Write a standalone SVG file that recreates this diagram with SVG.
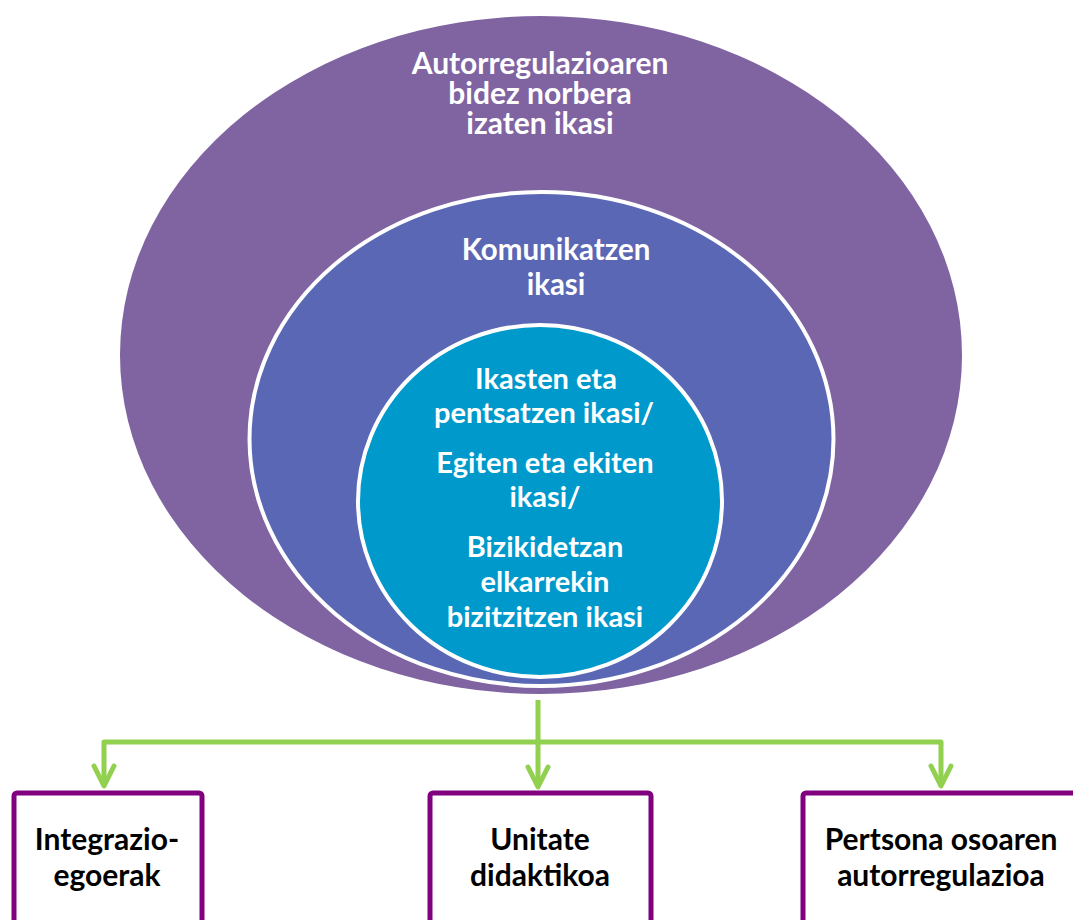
<svg xmlns="http://www.w3.org/2000/svg" width="1073" height="920" viewBox="0 0 1073 920">
<style>
.w{font-family:Lato,"Liberation Sans",sans-serif;font-weight:700;fill:#ffffff;text-anchor:middle}
.k{font-family:Lato,"Liberation Sans",sans-serif;font-weight:700;fill:#000000;text-anchor:middle;font-size:30px}
.box{fill:#ffffff;stroke:#800080;stroke-width:5}
.con{fill:none;stroke:#92D050;stroke-width:5;stroke-linejoin:round}
.head{fill:none;stroke:#92D050;stroke-width:5;stroke-linejoin:round;stroke-linecap:round}
</style>
<rect width="1073" height="920" fill="#ffffff"/>
<g id="outer">
<ellipse cx="541" cy="355" rx="421" ry="339" fill="#8064A2"/>
<text class="w" font-size="30"><tspan x="540" y="74">Autorregulazioaren</tspan><tspan x="540" y="104">bidez norbera</tspan><tspan x="540" y="134">izaten ikasi</tspan></text>
</g>
<g id="middle">
<ellipse cx="541.5" cy="439" rx="292" ry="247" fill="#5A67B4" stroke="#ffffff" stroke-width="4"/>
<text class="w" font-size="29.5"><tspan x="556" y="260">Komunikatzen</tspan><tspan x="556" y="295">ikasi</tspan></text>
</g>
<g id="inner">
<ellipse cx="540" cy="501" rx="182" ry="176" fill="#0099CC" stroke="#ffffff" stroke-width="4"/>
<text class="w" font-size="29"><tspan x="546" y="389">Ikasten eta</tspan><tspan x="544" y="423">pentsatzen ikasi/</tspan><tspan x="545" y="473">Egiten eta ekiten</tspan><tspan x="545" y="507">ikasi/</tspan><tspan x="545" y="557">Bizikidetzan</tspan><tspan x="545" y="592">elkarrekin</tspan><tspan x="545" y="627">bizitzitzen ikasi</tspan></text>
</g>
<g id="connectors">
<path class="con" d="M538 700 V786"/>
<path class="con" d="M538 742 H104 V786"/>
<path class="con" d="M538 742 H941 V786"/>
<path class="head" d="M94 766 L104 786 L114 766"/>
<path class="head" d="M528 767 L538 787 L548 767"/>
<path class="head" d="M931 766 L941 786 L951 766"/>
</g>
<g id="box1">
<rect class="box" x="14" y="793" width="188" height="200" rx="3"/>
<text class="k"><tspan x="107" y="850">Integrazio-</tspan><tspan x="107" y="886">egoerak</tspan></text>
</g>
<g id="box2">
<rect class="box" x="430" y="793" width="221" height="200" rx="3"/>
<text class="k"><tspan x="540" y="850">Unitate</tspan><tspan x="540" y="886">didaktikoa</tspan></text>
</g>
<g id="box3">
<rect class="box" x="803" y="793" width="320" height="200" rx="3"/>
<text class="k"><tspan x="941" y="850">Pertsona osoaren</tspan><tspan x="941" y="886">autorregulazioa</tspan></text>
</g>
</svg>
